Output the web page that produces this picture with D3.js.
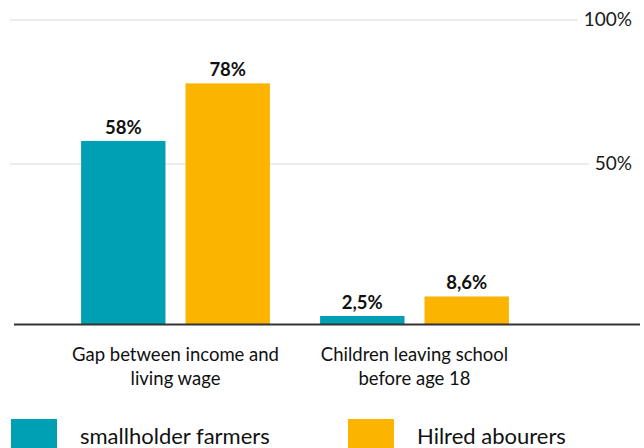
<!DOCTYPE html>
<html>
<head>
<meta charset="utf-8">
<script src="https://cdn.jsdelivr.net/npm/d3@7"></script>
<style>
  html, body { margin: 0; padding: 0; background: #fff; }
  svg { display: block; font-family: Lato, "Open Sans", sans-serif; }
</style>
</head>
<body>
<svg id="chart" width="644" height="448"></svg>
<script>
const categories = ["Gap between income and living wage", "Children leaving school before age 18"];
const seriesNames = ["smallholder farmers", "Hilred abourers"];
const smallholderValues = [58, 2.5];
const labourerValues = [78, 8.6];
const valueLabels = [["58%", "2,5%"], ["78%", "8,6%"]];
const tickValues = [50, 100];
const tickLabels = ["50%", "100%"];
const colors = ["#00a0b4", "#fbb400"];

const series = [smallholderValues, labourerValues];
const svg = d3.select("#chart");

const x0 = d3.scaleBand().domain(categories).range([56, 534]).paddingInner(0.21).paddingOuter(0.105);
const x1 = d3.scaleBand().domain(seriesNames).range([0, x0.bandwidth()]).paddingInner(0.192);
const y = d3.scaleLinear().domain([0, 50, 100]).range([324, 164, 20]);

// gridlines + tick labels
const ticks = svg.append("g");
tickValues.forEach((t, i) => {
  const lbl = ticks.append("text")
    .attr("x", 632).attr("y", y(t) + 1)
    .attr("text-anchor", "end").attr("dominant-baseline", "middle")
    .attr("font-size", 19).attr("fill", "#1a1a1a")
    .text(tickLabels[i]);
  const w = lbl.node().getComputedTextLength();
  ticks.insert("line", "text")
    .attr("x1", 10).attr("x2", 632 - w - 6)
    .attr("y1", y(t)).attr("y2", y(t))
    .attr("stroke", "#d9d9d9").attr("stroke-width", 1);
});

// bars
categories.forEach((c, ci) => {
  seriesNames.forEach((s, si) => {
    const v = series[si][ci];
    const bx = x0(c) + x1(s);
    svg.append("rect")
      .attr("x", bx).attr("width", x1.bandwidth())
      .attr("y", y(v)).attr("height", y(0) - y(v))
      .attr("fill", colors[si]);
    svg.append("text")
      .attr("x", bx + x1.bandwidth() / 2).attr("y", y(v) - 7)
      .attr("text-anchor", "middle").attr("font-size", 18.5)
      .attr("font-weight", "bold").attr("fill", "#111")
      .text(valueLabels[si][ci]);
  });
});

// baseline
svg.append("line")
  .attr("x1", 14).attr("x2", 640)
  .attr("y1", y(0) + 0.5).attr("y2", y(0) + 0.5)
  .attr("stroke", "#333").attr("stroke-width", 2);

// category labels with wrapping
function wrap(textSel, width) {
  textSel.each(function() {
    const t = d3.select(this);
    const words = t.text().split(/\s+/);
    const xPos = t.attr("x");
    t.text(null);
    let line = [];
    let tspan = t.append("tspan").attr("x", xPos).attr("dy", 0);
    words.forEach(w => {
      line.push(w);
      tspan.text(line.join(" "));
      if (tspan.node().getComputedTextLength() > width && line.length > 1) {
        line.pop();
        tspan.text(line.join(" "));
        line = [w];
        tspan = t.append("tspan").attr("x", xPos).attr("dy", 24).text(w);
      }
    });
  });
}
categories.forEach(c => {
  svg.append("text")
    .attr("x", x0(c) + x0.bandwidth() / 2).attr("y", 361)
    .attr("text-anchor", "middle").attr("font-size", 18.5).attr("fill", "#111")
    .text(c)
    .call(wrap, 225);
});

// legend
const legendX = [11, 348];
seriesNames.forEach((s, i) => {
  svg.append("rect").attr("x", legendX[i]).attr("y", 419)
    .attr("width", 46).attr("height", 30).attr("fill", colors[i]);
  svg.append("text").attr("x", legendX[i] + 69).attr("y", 444)
    .attr("font-size", 22).attr("fill", "#111").text(s);
});
</script>
</body>
</html>
